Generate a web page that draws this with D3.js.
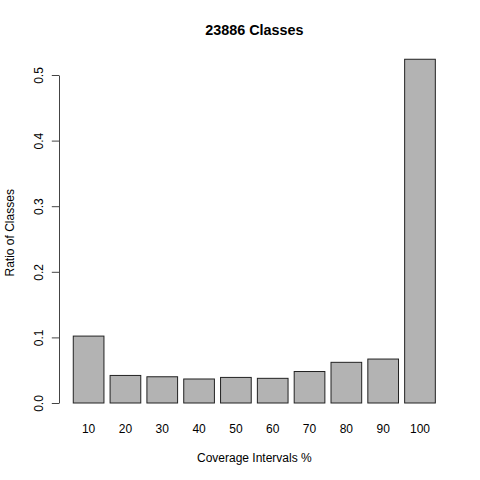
<!DOCTYPE html>
<html>
<head>
<meta charset="utf-8">
<script src="https://cdn.jsdelivr.net/npm/d3@7"></script>
<style>
  body { margin: 0; background: #fff; }
  text { font-family: "Liberation Sans", Arial, Helvetica, sans-serif; fill: #000; }
</style>
</head>
<body>
<svg class="chart" width="480" height="480"></svg>
<script>
const categories = ['10', '20', '30', '40', '50', '60', '70', '80', '90', '100'];
const ratios = [0.102, 0.042, 0.040, 0.0366, 0.039, 0.0376, 0.048, 0.062, 0.067, 0.524];
const yTicks = [0, 0.1, 0.2, 0.3, 0.4, 0.5];

const svg = d3.select('.chart');

// plot region (R default margins on 480x480)
const plotLeft = 59, plotRight = 449.7, plotTop = 59, plotBottom = 406.6;

const x = d3.scaleBand()
    .domain(categories)
    .range([70.2, 438.4])
    .paddingInner(1 / 6)
    .paddingOuter(1 / 12);

const y = d3.scaleLinear()
    .domain([0, 0.5])
    .range([403, 75]);

// bars
svg.selectAll('rect.bar')
    .data(categories)
    .enter().append('rect')
    .attr('class', 'bar')
    .attr('x', d => x(d))
    .attr('width', x.bandwidth())
    .attr('y', (d, i) => y(ratios[i]))
    .attr('height', (d, i) => y(0) - y(ratios[i]))
    .attr('fill', '#b3b3b3')
    .attr('stroke', '#222')
    .attr('stroke-width', 1);

// y axis
const yAxis = d3.axisLeft(y)
    .tickValues(yTicks)
    .tickFormat(d3.format('.1f'))
    .tickSize(7.2)
    .tickSizeOuter(0)
    .tickPadding(9);

const yg = svg.append('g')
    .attr('transform', `translate(${plotLeft},0)`)
    .call(yAxis);
yg.select('.domain').attr('stroke', '#444');
yg.selectAll('.tick line').attr('stroke', '#444');
yg.selectAll('.tick text')
    .attr('font-size', 12)
    .attr('font-family', '"Liberation Sans", Arial, sans-serif')
    .attr('fill', '#000')
    .attr('text-anchor', 'middle')
    .attr('x', 0).attr('dy', 0)
    .attr('transform', 'translate(-16.5,0) rotate(-90)');

// x category labels (no axis line, like R barplot)
svg.selectAll('text.xlab')
    .data(categories)
    .enter().append('text')
    .attr('class', 'xlab')
    .attr('x', d => x(d) + x.bandwidth() / 2)
    .attr('y', 432.6)
    .attr('text-anchor', 'middle')
    .attr('font-size', 12)
    .text(d => d);

// titles
svg.append('text')
    .attr('x', (plotLeft + plotRight) / 2)
    .attr('y', 35)
    .attr('text-anchor', 'middle')
    .attr('font-size', 14.4)
    .attr('font-weight', 'bold')
    .text('23886 Classes');

svg.append('text')
    .attr('x', (plotLeft + plotRight) / 2)
    .attr('y', 461.5)
    .attr('text-anchor', 'middle')
    .attr('font-size', 12)
    .text('Coverage Intervals %');

svg.append('text')
    .attr('transform', `translate(14,${(plotTop + plotBottom) / 2}) rotate(-90)`)
    .attr('text-anchor', 'middle')
    .attr('font-size', 12)
    .text('Ratio of Classes');
</script>
</body>
</html>
